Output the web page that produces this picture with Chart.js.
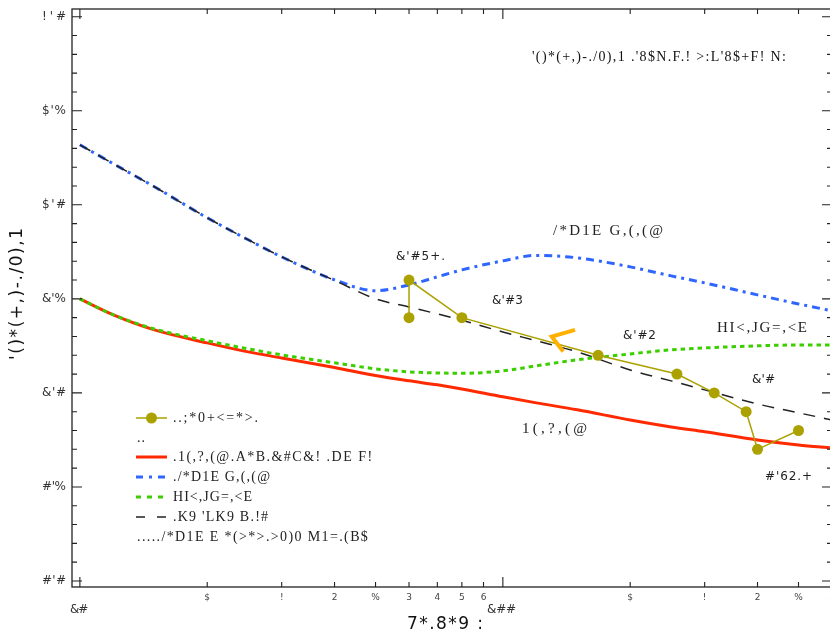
<!DOCTYPE html>
<html><head><meta charset="utf-8">
<style>html,body{margin:0;padding:0;overflow:hidden;background:#fff}</style>
<script src="https://cdn.jsdelivr.net/npm/chart.js@4.4.1/dist/chart.umd.min.js"></script>
</head><body>
<canvas id="c" width="842" height="637" style="display:block;width:842px;height:637px"></canvas>
<script>
// ---- data ----
const curveX = [10,12,15,20,25,30,40,50,60,70,80,100,120,150,200,250,300,400,500,600];
const redY   = [1.500,1.415,1.335,1.266,1.218,1.186,1.135,1.092,1.064,1.043,1.021,0.979,0.947,0.910,0.856,0.819,0.793,0.750,0.723,0.707];
const greenY = [1.500,1.415,1.340,1.277,1.234,1.202,1.160,1.128,1.112,1.106,1.104,1.117,1.144,1.176,1.207,1.229,1.239,1.250,1.255,1.255];
const blueY  = [2.319,2.218,2.096,1.931,1.814,1.723,1.601,1.543,1.574,1.617,1.654,1.702,1.731,1.718,1.670,1.622,1.585,1.521,1.473,1.436];
const blackY = [2.319,2.218,2.096,1.931,1.814,1.723,1.598,1.500,1.457,1.420,1.386,1.324,1.277,1.218,1.122,1.064,1.016,0.941,0.894,0.856];
const pointsX = [60,60,80,168,258,316,376,400,500];
const pointsY = [1.40,1.60,1.40,1.20,1.10,1.00,0.90,0.70,0.80];
const chevronX = [148.1,130.5,138.9];
const chevronY = [1.335,1.299,1.220];

const yTickValues = [0,0.5,1,1.5,2,2.5,3];
const yTickLabels = ["#'#","#'%","&'#","&'%","$'#","$'%","!'#"];
const xMajorTicks = [10,100];
const xMajorLabels = ["&#","&##"];
const xMinorTicks = [20,30,40,50,60,70,80,90,200,300,400,500,600];
const xMinorLabels = ["$","!","2","%","3","4","5","6","$","!","2","%","3"];

const xTitle = "7*.8*9 :";
const yTitle = "'()*(+,)-./0),1";
const topTitle = "'()*(+,)-./0),1 .'8$N.F.! >:L'8$+F! N:";
const pointLabels = ["&'#5+.","&'#3","&'#2","&'#","#'62.+"];
const seriesLabels = ["/*D1E G,(,(@","HI<,JG=,<E","1(,?,(@"];
const legendLabels = ["..;*0+<=*>.","..",".1(,?,(@.A*B.&#C&! .DE F!","./*D1E G,(,(@","HI<,JG=,<E",".K9 'LK9 B.!#","...../*D1E E *(>*>.>0)0 M1=.(B$"];

const OLIVE = '#aba100', RED = '#ff2a00', BLUE = '#2f66ff', GREEN = '#3ccf00', BLACK = '#222222', ORANGE = '#ffb000';
const BLUE_DASH = [8,5,3,5], GREEN_DASH = [4.5,4], BLACK_DASH = [12,9];

const toXY = (xs, ys) => xs.map((x, i) => ({x, y: ys[i]}));

function fitText(ctx, text, x1, x2, yc, font, color) {
  ctx.save();
  ctx.font = font;
  ctx.fillStyle = color || '#111';
  ctx.textBaseline = 'middle';
  ctx.textAlign = 'left';
  ctx.letterSpacing = '0px';
  const w = ctx.measureText(text).width;
  let sp = text.length > 1 ? (x2 - x1 - w) / (text.length - 1) : 0;
  sp = Math.max(-1, Math.min(8, sp));
  ctx.letterSpacing = sp.toFixed(2) + 'px';
  if (text.length === 1) { ctx.textAlign = 'center'; ctx.fillText(text, (x1 + x2) / 2, yc); }
  else ctx.fillText(text, x1, yc);
  ctx.restore();
}

const decor = {
  id: 'decor',
  afterDatasetsDraw(chart) {
    const {ctx, chartArea: a, scales: {x, y}} = chart;
    ctx.save();
    ctx.strokeStyle = '#222';
    ctx.lineWidth = 1.3;
    ctx.strokeRect(a.left, a.top, a.right - a.left, a.bottom - a.top);
    ctx.lineWidth = 1.1;
    ctx.beginPath();
    for (let k = 0; k <= 30; k++) {
      const py = y.getPixelForValue(k / 10);
      const len = k % 5 === 0 ? 10 : 5;
      ctx.moveTo(a.left, py); ctx.lineTo(a.left + len, py);
      ctx.moveTo(a.right, py); ctx.lineTo(a.right - len, py);
    }
    xMajorTicks.forEach(v => {
      const px = x.getPixelForValue(v);
      ctx.moveTo(px, a.bottom); ctx.lineTo(px, a.bottom - 10);
      ctx.moveTo(px, a.top); ctx.lineTo(px, a.top + 10);
    });
    xMinorTicks.forEach(v => {
      const px = x.getPixelForValue(v);
      ctx.moveTo(px, a.bottom); ctx.lineTo(px, a.bottom - 5);
      ctx.moveTo(px, a.top); ctx.lineTo(px, a.top + 5);
    });
    ctx.stroke();
    ctx.restore();

    // tick labels
    yTickValues.forEach((v, i) => {
      const py = y.getPixelForValue(v);
      fitText(ctx, yTickLabels[i], 42, 66, py, '12px "DejaVu Sans"', '#333');
    });
    xMinorTicks.forEach((v, i) => {
      const px = x.getPixelForValue(v);
      fitText(ctx, xMinorLabels[i], px - 4, px + 4, a.bottom + 11, '9px "DejaVu Sans"', '#444');
    });
    const majExt = [[70,88],[487,516]];
    xMajorTicks.forEach((v, i) => {
      fitText(ctx, xMajorLabels[i], majExt[i][0], majExt[i][1], a.bottom + 23, '12px "DejaVu Sans"', '#333');
    });

    // axis titles
    fitText(ctx, xTitle, 407, 483, 625, '17px "DejaVu Sans"', '#111');
    ctx.save();
    ctx.translate(18, 294);
    ctx.rotate(-Math.PI / 2);
    fitText(ctx, yTitle, -66, 66, 0, '17px "DejaVu Sans"', '#111');
    ctx.restore();

    // top title
    fitText(ctx, topTitle, 532, 786, 57, '14px "Liberation Serif"', '#111');

    // point labels
    const plPos = [[396,445,257],[492,523,301],[623,656,336],[752,775,380],[765,812,477]];
    pointLabels.forEach((t, i) => fitText(ctx, t, plPos[i][0], plPos[i][1], plPos[i][2], '12px "DejaVu Sans"', '#222'));
    const slPos = [[553,663,231],[717,807,328],[522,587,429]];
    seriesLabels.forEach((t, i) => fitText(ctx, t, slPos[i][0], slPos[i][1], slPos[i][2], '15px "Liberation Serif"', '#222'));

    // legend
    const rowsY = [418,438,457,477,497,517,537];
    const h1 = 136, h2 = 167;
    const line = (yy, color, w, dash) => {
      ctx.save(); ctx.strokeStyle = color; ctx.lineWidth = w; ctx.setLineDash(dash);
      ctx.beginPath(); ctx.moveTo(h1, yy); ctx.lineTo(h2, yy); ctx.stroke(); ctx.restore();
    };
    line(rowsY[0], OLIVE, 1.5, []);
    ctx.save(); ctx.fillStyle = OLIVE; ctx.beginPath(); ctx.arc(151.5, rowsY[0], 5.5, 0, Math.PI * 2); ctx.fill(); ctx.restore();
    line(rowsY[2], RED, 3, []);
    line(rowsY[3], BLUE, 3, [7,6,3,6]);
    line(rowsY[4], GREEN, 3, [5,6]);
    line(rowsY[5], BLACK, 1.5, [9,12]);
    const lgExt = [[173,258],[137,145],[173,372],[173,270],[173,252],[173,268],[137,368]];
    legendLabels.forEach((t, i) => fitText(ctx, t, lgExt[i][0], lgExt[i][1], rowsY[i], '14px "Liberation Serif"', '#222'));
  }
};

new Chart(document.getElementById('c'), {
  type: 'line',
  data: {
    datasets: [
      {data: toXY(chevronX, chevronY), borderColor: ORANGE, borderWidth: 4, pointRadius: 0, tension: 0, borderJoinStyle: 'miter'},
      {data: toXY(pointsX, pointsY), borderColor: OLIVE, backgroundColor: OLIVE, borderWidth: 1.5, pointRadius: 5.5, pointBorderWidth: 0, pointBackgroundColor: OLIVE, tension: 0},
      {data: toXY(curveX, greenY), borderColor: GREEN, borderWidth: 3, borderDash: GREEN_DASH, pointRadius: 0, cubicInterpolationMode: 'monotone'},
      {data: toXY(curveX, redY), borderColor: RED, borderWidth: 3, pointRadius: 0, cubicInterpolationMode: 'monotone'},
      {data: toXY(curveX, blackY), borderColor: BLACK, borderWidth: 1.5, borderDash: BLACK_DASH, pointRadius: 0, cubicInterpolationMode: 'monotone'},
      {data: toXY(curveX, blueY), borderColor: BLUE, borderWidth: 3, borderDash: BLUE_DASH, pointRadius: 0, cubicInterpolationMode: 'monotone'}
    ]
  },
  options: {
    responsive: false, animation: false, devicePixelRatio: 1,
    layout: {padding: {left: 72, top: 9, right: 10, bottom: 50}},
    plugins: {legend: {display: false}, tooltip: {enabled: false}},
    scales: {
      x: {type: 'logarithmic', min: 9.58, max: 600, display: false},
      y: {type: 'linear', min: -0.032, max: 3.041, display: false}
    }
  },
  plugins: [decor]
});
</script>
</body></html>
